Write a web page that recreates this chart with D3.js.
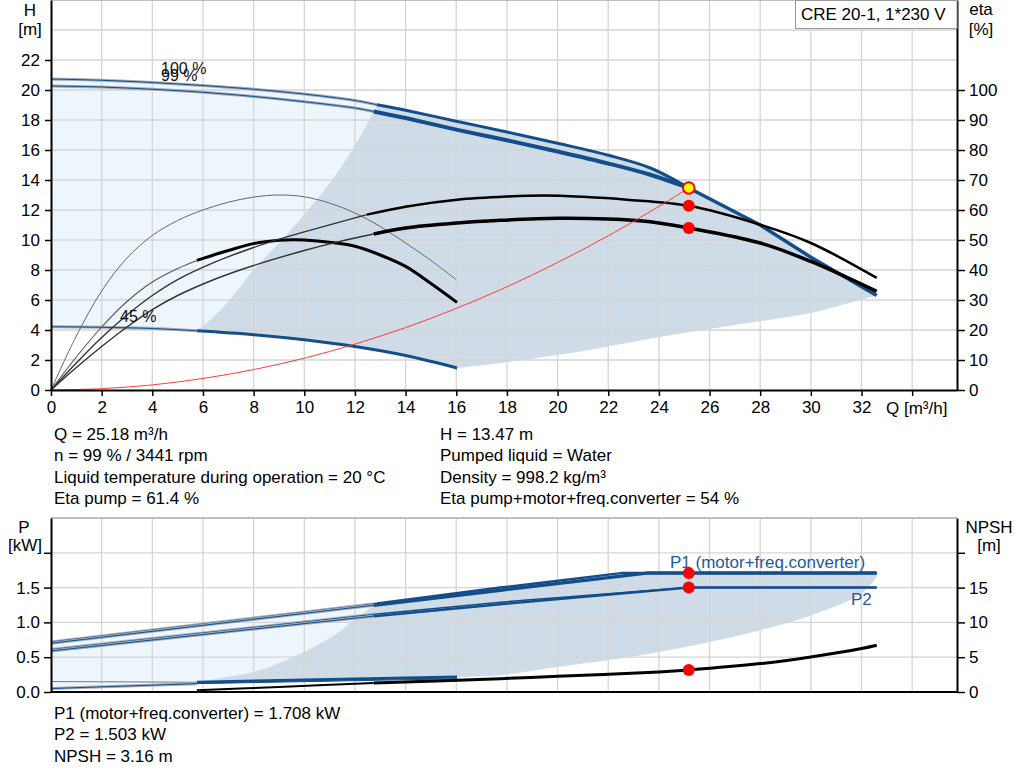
<!DOCTYPE html>
<meta charset="utf-8">
<style>
body { margin: 0; background: #fff; }
svg { display: block; font-family: "Liberation Sans", Arial, sans-serif; }
</style>
<svg width="1024" height="781"></svg>
<script src="https://cdn.jsdelivr.net/npm/d3@7"></script>
<script>

// ---- data (Q in m3/h) ----
var qTicks = d3.range(0, 33, 2);
var hTicks = d3.range(0, 23, 2);
var etaTicks = d3.range(0, 101, 10);
var pTicks = [0, 0.5, 1, 1.5, 2];
var npshTicks = [0, 5, 10, 15, 20];

// head curves [Q, H]
var h100 = [[0,20.73],[2,20.65],[4,20.5],[6,20.3],[8,20.05],[10,19.73],[12,19.3],[12.87,19.02],[14,18.65],[16,17.92],[18,17.2],[20,16.45],[22,15.65],[23.66,14.8],[25.18,13.47]];
var h99 = [[0,20.27],[2,20.2],[4,20.05],[6,19.85],[8,19.57],[10,19.22],[12,18.8],[12.74,18.57],[14,18.13],[16,17.36],[18,16.65],[20,15.9],[22,15.1],[23.66,14.35],[25.18,13.47]];
var hLimit = [[25.18,13.47],[28,11.0],[30,8.85],[32.6,6.3]];
var hMin = [[0,4.22],[2,4.18],[4,4.1],[5.76,3.95],[8,3.69],[10,3.35],[12,2.9],[14,2.3],[16.03,1.47]];
var grayLeftH = [[5.76,3.95],[6.3,4.7],[7,5.9],[8,8.0],[9,9.8],[10,11.7],[11,13.8],[12,16.3],[12.74,18.57]];
var grayBottomH = [[32.6,6.3],[31,5.57],[30,5.13],[28,4.58],[26,4.07],[24,3.53],[22,2.9],[20,2.33],[17.74,1.8],[16.03,1.47]];
var systemCurve = [[0,0],[2,0.09],[4,0.34],[6,0.77],[8,1.36],[10,2.12],[12,3.06],[14,4.16],[16,5.44],[18,6.88],[20,8.5],[22,10.28],[24,12.24],[25.18,13.47]];

// efficiency curves [Q, eta %]
var etaA = [[0,0],[1,18],[2,33],[3,44],[4,51.5],[5,56.5],[6,60],[7,62.6],[8,64.3],[9,65],[10,64.4],[11,62.3],[12,59],[13,54.5],[14,49],[15,43.2],[16,36.75]];
var etaB = [[0,0],[1,11],[2,21],[3,29.5],[4,36],[5,40.5],[5.76,43.2],[7,46.5],[8,48.8],[9,49.9],[9.58,50.1],[10,50],[11,49.25],[12,47.9],[13,45],[14,41.2],[15,35.5],[16.03,29.2]];
var etaPump = [[0,0],[1,9],[2,17.5],[3,25],[4,31.5],[5,36.8],[6.49,42.7],[8,47.5],[8.79,49.7],[10,52.7],[12.47,58.45],[14.05,61.2],[16.03,63.45],[18,64.5],[19.5,64.85],[21,64.4],[22.74,63.45],[25.18,61.4],[28,55.1],[30,49],[32.6,37.35]];
var etaTotal = [[0,0],[1,7.5],[2,14.5],[3,21],[4,26.8],[5,31.5],[6.49,37],[8,41.5],[10,46.5],[11.29,49.3],[12.74,52],[14,54],[16.03,55.65],[17.74,56.55],[19.98,57.25],[22,57],[23.66,56.1],[25.18,54],[28,49],[30,42.85],[32.6,32.85]];

// power curves [Q, kW] and NPSH [Q, m]
var p1Max = [[0,0.72],[12.87,1.27],[17.74,1.50],[22.5,1.708],[32.6,1.708]];
var p1Op = [[0,0.70],[12.74,1.247],[17.74,1.463],[23.52,1.708],[32.6,1.708]];
var p2Max = [[0,0.61],[12.87,1.12],[17.74,1.29],[25.18,1.503],[32.6,1.503]];
var p2Op = [[0,0.59],[12.74,1.09],[17.74,1.262],[25.18,1.503],[32.6,1.503]];
var p1Min = [[0,0.15],[5.76,0.14],[16.03,0.216]];
var p2Min = [[0,0.05],[5.76,0.12],[16.03,0.19]];
var grayLeftP = [[5.76,0.14],[6.5,0.19],[8.2,0.31],[9.84,0.55],[11.2,0.82],[11.96,1.03],[12.74,1.247]];
var grayBottomP = [[32.6,1.66],[32,1.416],[30,1.10],[28,0.888],[26,0.72],[24,0.576],[22,0.456],[20,0.36],[17.74,0.24],[16.03,0.216]];
var npsh = [[5.76,0.24],[9,0.72],[12.74,1.29],[17.74,1.92],[20,2.26],[24,2.88],[25.18,3.16],[28,4.08],[30,5.04],[32,6.24],[32.6,6.72]];

var dutyQ = 25.18, dutyH = 13.47, dutyEtaPump = 61.4, dutyEtaTotal = 54;
var dutyP1 = 1.708, dutyP2 = 1.503, dutyNpsh = 3.16;

var infoLeft = ["Q = 25.18 m\u00b3/h", "n = 99 % / 3441 rpm", "Liquid temperature during operation = 20 \u00b0C", "Eta pump = 61.4 %"];
var infoRight = ["H = 13.47 m", "Pumped liquid = Water", "Density = 998.2 kg/m\u00b3", "Eta pump+motor+freq.converter = 54 %"];
var infoPower = ["P1 (motor+freq.converter) = 1.708 kW", "P2 = 1.503 kW", "NPSH = 3.16 m"];

// ---- scales ----
var svg = d3.select("svg");
var blue = "#134e8b", lightFill = "#eef6fd", grayFill = "#cfdbe6", gridCol = "#d5d5d5";

var x = d3.scaleLinear().domain([0, 35.77]).range([51, 957]);
var yH = d3.scaleLinear().domain([0, 26]).range([390, 0]);
var yEta = d3.scaleLinear().domain([0, 130]).range([390, 0]);
var yP = d3.scaleLinear().domain([0, 2.5]).range([692, 518]);
var yN = d3.scaleLinear().domain([0, 25]).range([692, 518]);

function gen(ys, curve) {
  return d3.line().x(function(d) { return x(d[0]); }).y(function(d) { return ys(d[1]); })
    .curve(curve || d3.curveCatmullRom.alpha(0.5));
}
function upTo(a, q) { return a.filter(function(d) { return d[0] <= q; }); }
function from(a, q) { return a.filter(function(d) { return d[0] >= q; }); }
function rev(a) { return a.slice().reverse(); }
// closed outline made of several curve pieces
function region(ys, pieces) {
  return pieces.map(function(p, i) {
    var s = gen(ys, p[1])(p[0]);
    return i ? s.replace(/^M/, "L") : s;
  }).join("") + "Z";
}
function path(g, d, stroke, w) {
  return g.append("path").attr("d", d).attr("fill", "none")
    .attr("stroke", stroke).attr("stroke-width", w).attr("stroke-linejoin", "round");
}
// thin curve drawn as blue line with a grey halo
function thinPair(g, d) {
  path(g, d, "#a3adba", 3);
  path(g, d, blue, 1);
}

// ---- upper chart: H / eta ----
var upper = svg.append("g");

upper.append("path").attr("fill", lightFill)
  .attr("d", region(yH, [[upTo(h100, 12.87)], [rev(grayLeftH)], [rev(upTo(hMin, 5.76))]]));
upper.append("path").attr("fill", grayFill)
  .attr("d", region(yH, [[grayLeftH], [from(h100, 12.87)], [hLimit, d3.curveLinear], [grayBottomH], [rev(from(hMin, 5.76))]]));

// grid
upper.append("g").selectAll("line").data(d3.range(2, 35, 2)).enter().append("line")
  .attr("x1", x).attr("x2", x).attr("y1", yH(0)).attr("y2", yH(26))
  .attr("stroke", gridCol).attr("stroke-width", 1.3);
upper.append("g").selectAll("line").data(d3.range(2, 27, 2)).enter().append("line")
  .attr("x1", x(0)).attr("x2", x.range()[1]).attr("y1", yH).attr("y2", yH)
  .attr("stroke", function(d) { return d === 26 ? "#aaa" : gridCol; }).attr("stroke-width", 1.3);

// head curves
var lh = gen(yH);
thinPair(upper, lh(upTo(h100, 12.87)));
thinPair(upper, lh(upTo(h99, 12.74)));
thinPair(upper, lh(upTo(hMin, 5.76)));
path(upper, lh(from(h100, 12.87)), blue, 3);
path(upper, lh(from(h99, 12.74)), blue, 4);
path(upper, gen(yH, d3.curveLinear)(hLimit), blue, 3.5);
path(upper, lh(from(hMin, 5.76)), blue, 3);

// efficiency curves
var le = gen(yEta);
path(upper, le(etaA), "#666", 1);
path(upper, le(upTo(etaB, 5.76)), "#555", 1.1);
path(upper, le(from(etaB, 5.76)), "#000", 3);
path(upper, le(upTo(etaPump, 12.47)), "#333", 1.4);
path(upper, le(from(etaPump, 12.47)), "#000", 2.5);
path(upper, le(upTo(etaTotal, 12.74)), "#333", 1.4);
path(upper, le(from(etaTotal, 12.74)), "#000", 3.5);

// system curve
path(upper, lh(systemCurve), "#ff3b3b", 1);

upper.append("circle").attr("cx", x(dutyQ)).attr("cy", yEta(dutyEtaPump)).attr("r", 6).attr("fill", "#ff0000");
upper.append("circle").attr("cx", x(dutyQ)).attr("cy", yEta(dutyEtaTotal)).attr("r", 6).attr("fill", "#ff0000");
upper.append("circle").attr("cx", x(dutyQ)).attr("cy", yH(dutyH)).attr("r", 5.8)
  .attr("fill", "#ffff00").attr("stroke", "#ff0000").attr("stroke-width", 2);

// speed labels
var speedLabels = [["100 %", 161, 74], ["99 %", 161, 81], ["45 %", 120, 322]];
upper.selectAll("text.sp").data(speedLabels).enter().append("text")
  .attr("x", function(d) { return d[1]; }).attr("y", function(d) { return d[2]; })
  .attr("font-size", 16).attr("fill", "#111").text(function(d) { return d[0]; });

// axes
function styleAxis(g) {
  g.attr("font-size", 17).attr("font-family", null);
  g.selectAll("text").attr("fill", "#000");
  g.selectAll("line").attr("stroke", "#000").attr("stroke-width", 1.5);
  g.select(".domain").attr("stroke", "#000").attr("stroke-width", 2);
}
upper.append("g").attr("transform", "translate(" + x(0) + ",0)")
  .call(d3.axisLeft(yH).tickValues(hTicks).tickSize(6).tickSizeOuter(0).tickPadding(5))
  .call(styleAxis);
upper.append("g").attr("transform", "translate(" + x.range()[1] + ",0)")
  .call(d3.axisRight(yEta).tickValues(etaTicks).tickSize(8).tickSizeOuter(0).tickPadding(4))
  .call(styleAxis);
upper.append("g").attr("transform", "translate(0," + yH(0) + ")")
  .call(d3.axisBottom(x).tickValues(qTicks.concat([34])).tickSize(6).tickSizeOuter(0).tickPadding(5)
    .tickFormat(function(d) { return d === 34 ? "" : d; }))
  .call(styleAxis);

var axisTitles = [["H", 30, 16], ["[m]", 30, 35], ["eta", 981, 15], ["[%]", 981, 35]];
upper.selectAll("text.t").data(axisTitles).enter().append("text")
  .attr("x", function(d) { return d[1]; }).attr("y", function(d) { return d[2]; })
  .attr("text-anchor", "middle").attr("font-size", 17).text(function(d) { return d[0]; });
upper.append("text").attr("x", 886).attr("y", 414).attr("font-size", 17).text("Q [m\u00b3/h]");

// model box
upper.append("rect").attr("x", 795.5).attr("y", 0.5).attr("width", 161.5).attr("height", 28)
  .attr("fill", "#fff").attr("stroke", "#999");
upper.append("text").attr("x", 801).attr("y", 20).attr("font-size", 17).text("CRE 20-1, 1*230 V");

// info text
function infoBlock(lines, x0, y0) {
  svg.append("g").selectAll("text").data(lines).enter().append("text")
    .attr("x", x0).attr("y", function(d, i) { return y0 + i * 21.4; })
    .attr("font-size", 17).text(function(d) { return d; });
}
infoBlock(infoLeft, 54, 440);
infoBlock(infoRight, 440, 440);
infoBlock(infoPower, 54, 719);

// ---- lower chart: P / NPSH ----
var lower = svg.append("g");
var lin = d3.curveLinear;

lower.append("path").attr("fill", lightFill)
  .attr("d", region(yP, [[upTo(p1Max, 12.87), lin], [rev(grayLeftP)], [rev(upTo(p2Min, 5.76)), lin]]));
lower.append("path").attr("fill", grayFill)
  .attr("d", region(yP, [[grayLeftP], [from(p1Op, 12.74), lin], [grayBottomP], [rev(from(p1Min, 5.76)), lin]]));

lower.append("g").selectAll("line").data(d3.range(2, 35, 2)).enter().append("line")
  .attr("x1", x).attr("x2", x).attr("y1", yP(0)).attr("y2", yP(2.5))
  .attr("stroke", gridCol).attr("stroke-width", 1.3);
lower.append("g").selectAll("line").data([0.5, 1, 1.5, 2, 2.5]).enter().append("line")
  .attr("x1", x(0)).attr("x2", x.range()[1]).attr("y1", yP).attr("y2", yP)
  .attr("stroke", function(d) { return d === 2.5 ? "#aaa" : gridCol; }).attr("stroke-width", 1.3);

var lp = gen(yP, lin);
thinPair(lower, lp(upTo(p1Max, 12.87)));
thinPair(lower, lp(upTo(p1Op, 12.74)));
thinPair(lower, lp(upTo(p2Max, 12.87)));
thinPair(lower, lp(upTo(p2Op, 12.74)));
path(lower, lp(upTo(p1Min, 5.76)), "#777", 1);
thinPair(lower, lp(upTo(p2Min, 5.76)));
path(lower, lp(from(p2Min, 5.76)), blue, 1);
path(lower, lp(from(p1Min, 5.76)), blue, 3);
path(lower, lp(from(p1Max, 12.87)), blue, 2.5);
path(lower, lp(from(p1Op, 12.74)), blue, 3.5);
path(lower, lp(from(p2Max, 12.87)), blue, 1.5);
path(lower, lp(from(p2Op, 12.74)), blue, 2.5);

var ln = gen(yN);
path(lower, ln(upTo(npsh, 12.74)), "#000", 2);
path(lower, ln(from(npsh, 12.74)), "#000", 3);

[yP(dutyP1), yP(dutyP2), yN(dutyNpsh)].forEach(function(cy) {
  lower.append("circle").attr("cx", x(dutyQ)).attr("cy", cy).attr("r", 6).attr("fill", "#ff0000");
});

var curveLabels = [["P1 (motor+freq.converter)", 670, 568], ["P2", 851, 605]];
lower.selectAll("text.cl").data(curveLabels).enter().append("text")
  .attr("x", function(d) { return d[1]; }).attr("y", function(d) { return d[2]; })
  .attr("font-size", 17).attr("fill", "#1d5a98").text(function(d) { return d[0]; });

lower.append("g").attr("transform", "translate(" + x(0) + ",0)")
  .call(d3.axisLeft(yP).tickValues(pTicks).tickSize(7).tickSizeOuter(0).tickPadding(4)
    .tickFormat(function(d) { return d === 2 ? "" : d3.format(".1f")(d); }))
  .call(styleAxis);
lower.append("g").attr("transform", "translate(" + x.range()[1] + ",0)")
  .call(d3.axisRight(yN).tickValues(npshTicks).tickSize(8).tickSizeOuter(0).tickPadding(4)
    .tickFormat(function(d) { return d === 20 ? "" : d; }))
  .call(styleAxis);
lower.append("line").attr("x1", x(0)).attr("x2", x.range()[1]).attr("y1", yP(0)).attr("y2", yP(0))
  .attr("stroke", "#000").attr("stroke-width", 2);

var lowTitles = [["P", 24, 533], ["[kW]", 25, 551], ["NPSH", 989, 533], ["[m]", 989, 551]];
lower.selectAll("text.t").data(lowTitles).enter().append("text")
  .attr("x", function(d) { return d[1]; }).attr("y", function(d) { return d[2]; })
  .attr("text-anchor", "middle").attr("font-size", 17).text(function(d) { return d[0]; });

</script>
